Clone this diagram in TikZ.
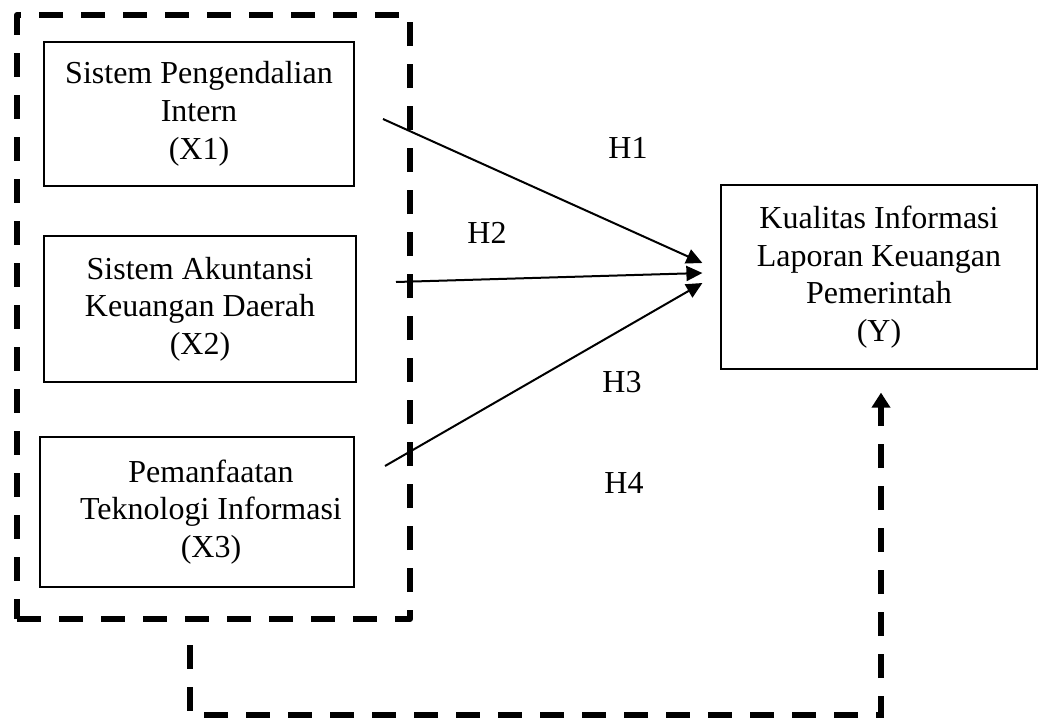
\documentclass[tikz,border=0pt]{standalone}
\usepackage{fontspec}
\setmainfont{Liberation Serif}
\usetikzlibrary{arrows.meta, positioning}

\begin{document}
\begin{tikzpicture}[
  x=0.5pt, y=-0.5pt,
  box/.style={
    draw,
    rectangle,
    line width=0.6pt,
    align=center,
    font=\fontsize{16}{18.85}\selectfont,
    inner sep=0pt
  },
  groupbox/.style={
    draw,
    rectangle,
    line width=3pt,
    dash pattern=on 12pt off 9pt,
    line join=round,
    inner sep=0pt
  },
  arrow/.style={
    -{Triangle[length=8pt,width=7.5pt]},
    line width=1pt
  },
  feedback/.style={
    -{Triangle[length=7.5pt,width=9pt]},
    line width=3pt,
    dash pattern=on 12pt off 9pt
  },
  hlabel/.style={font=\fontsize{16}{18.85}\selectfont}
]
\useasboundingbox (0,0) rectangle (1039,718);

% Nodes
\node[box, minimum width=155pt, minimum height=72pt] (x1) at (199,114)
  {Sistem Pengendalian\\Intern\\(X1)};
\node[box, minimum width=156pt, minimum height=73pt] (x2) at (200,309)
  {Sistem Akuntansi\\Keuangan Daerah\\(X2)};
\node[box, minimum width=157pt, minimum height=75pt] (x3) at (197,512)
  {\hspace*{14pt}Pemanfaatan\\\hspace*{14pt}Teknologi Informasi\\\hspace*{14pt}(X3)};
\node[box, minimum width=158pt, minimum height=92pt] (y) at (879,277)
  {Kualitas Informasi\\Laporan Keuangan\\Pemerintah\\(Y)};

% Dashed group round the independent variables
\node[groupbox, minimum width=196.5pt, minimum height=302pt] (group) at (213.5,317) {};

% Hypothesis labels
\node[hlabel] (h1) at (628,148) {H1};
\node[hlabel] (h2) at (487,233) {H2};
\node[hlabel] (h3) at (622,382) {H3};
\node[hlabel] (h4) at (624,483) {H4};

% Arrow ends
\coordinate (s1) at (383,119);
\coordinate (s2) at (396,282);
\coordinate (s3) at (385,466);
\coordinate (t1) at ([xshift=-9pt, yshift=7pt]y.west);
\coordinate (t2) at ([xshift=-9pt, yshift=2pt]y.west);
\coordinate (t3) at ([xshift=-9pt, yshift=-3pt]y.west);

% Arrows to Y
\draw[arrow] (s1) -- (t1);
\draw[arrow] (s2) -- (t2);
\draw[arrow] (s3) -- (t3);

% Dashed path from the group to Y
\coordinate (fstart) at (190,645);
\coordinate (fturn)  at (190,715);
\draw[feedback, shorten >=11.5pt] (fstart) -- (fturn) -| ([xshift=1pt]y.south);

\end{tikzpicture}
\end{document}
